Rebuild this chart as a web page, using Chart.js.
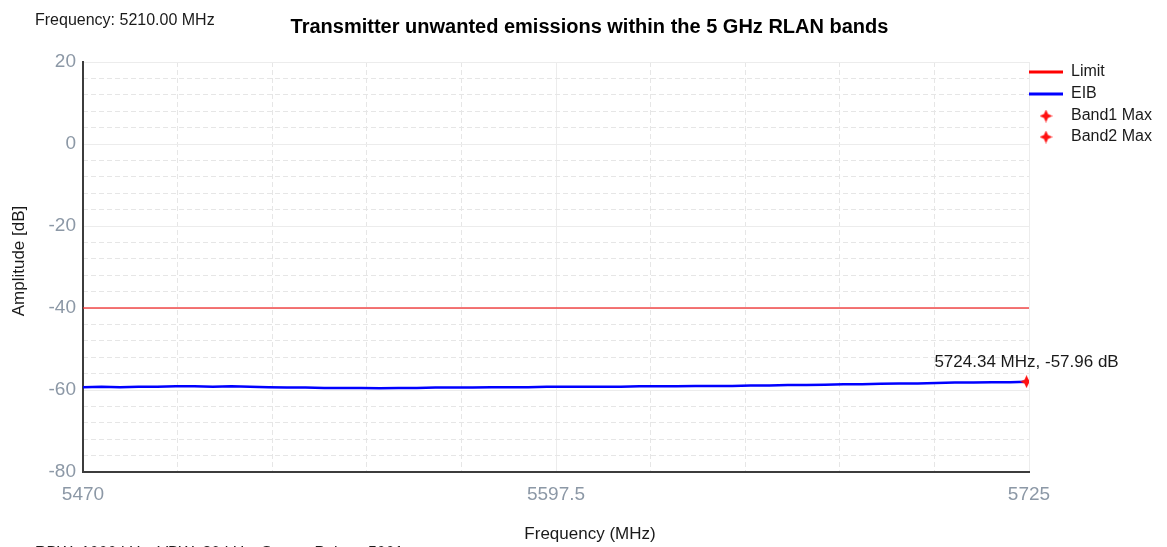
<!DOCTYPE html>
<html>
<head>
<meta charset="utf-8">
<script src="https://cdn.jsdelivr.net/npm/chart.js@4.4.1/dist/chart.umd.min.js"></script>
<style>
  html, body { margin: 0; padding: 0; background: #ffffff; }
  canvas { display: block; }
</style>
</head>
<body>
<canvas id="chart" width="1167" height="547"></canvas>
<script>
// Swept EIB trace (MHz / dB)
const freqMHz = [
  5470, 5475, 5480, 5485, 5490, 5495, 5500, 5505, 5510, 5515,
  5520, 5525, 5530, 5535, 5540, 5545, 5550, 5555, 5560, 5565,
  5570, 5575, 5580, 5585, 5590, 5595, 5600, 5605, 5610, 5615,
  5620, 5625, 5630, 5635, 5640, 5645, 5650, 5655, 5660, 5665,
  5670, 5675, 5680, 5685, 5690, 5695, 5700, 5705, 5710, 5715,
  5720, 5724.34, 5725
];
const eibDb = [
  -59.3, -59.2, -59.3, -59.2, -59.2, -59.1, -59.1, -59.2, -59.1, -59.2,
  -59.3, -59.4, -59.4, -59.5, -59.5, -59.5, -59.6, -59.5, -59.5, -59.4,
  -59.4, -59.4, -59.3, -59.3, -59.3, -59.2, -59.2, -59.2, -59.2, -59.2,
  -59.1, -59.1, -59.1, -59.0, -59.0, -59.0, -58.9, -58.9, -58.8, -58.8,
  -58.7, -58.6, -58.6, -58.5, -58.4, -58.4, -58.3, -58.2, -58.2, -58.1,
  -58.1, -57.96, -58.0
];

// Limit line
const limitFreq = [5470, 5725];
const limitDb = [-40, -40];

// Band maxima markers
const band1Freq = [5724.34];
const band1Db = [-57.96];
const band2Freq = [];
const band2Db = [];

// Axis ticks
const xMajorTicks = [5470, 5597.5, 5725];
const xMinorTicks = [5495.5, 5521, 5546.5, 5572, 5623, 5648.5, 5674, 5699.5];
const yMajorTicks = [-80, -60, -40, -20, 0, 20];
const yMinorTicks = [-76, -72, -68, -64, -56, -52, -48, -44, -36, -32, -28, -24,
                     -16, -12, -8, -4, 4, 8, 12, 16];

const FONT = "'Liberation Sans', Arial, sans-serif";
const TICK_COLOR = '#8c98a6';
const TEXT_COLOR = '#1a1a1a';

function toPoints(xs, ys) { return xs.map((x, i) => ({ x: x, y: ys[i] })); }

// Four-pointed star used for the band maximum markers
function starMarker(size, color) {
  const c = document.createElement('canvas');
  c.width = c.height = size;
  const g = c.getContext('2d');
  const m = size / 2, ro = size / 2, ri = size * 0.22;
  g.beginPath();
  for (let i = 0; i < 8; i++) {
    const a = i * Math.PI / 4 - Math.PI / 2;
    const r = i % 2 ? ri : ro;
    g.lineTo(m + r * Math.cos(a), m + r * Math.sin(a));
  }
  g.closePath();
  g.fillStyle = color;
  g.fill();
  return c;
}
const starRed = starMarker(13, '#ff1010');

const textPlugin = {
  id: 'chartTexts',
  afterDraw(chart) {
    const ctx = chart.ctx;
    ctx.save();
    ctx.fillStyle = TEXT_COLOR;

    // header
    ctx.font = '16px ' + FONT;
    ctx.textAlign = 'left';
    ctx.textBaseline = 'alphabetic';
    ctx.fillText('Frequency: 5210.00 MHz', 35, 25);

    // title
    ctx.font = 'bold 20px ' + FONT;
    ctx.textAlign = 'center';
    ctx.fillStyle = '#000000';
    ctx.fillText('Transmitter unwanted emissions within the 5 GHz RLAN bands', 589.5, 33);
    ctx.fillStyle = TEXT_COLOR;

    // x axis title
    ctx.font = '17px ' + FONT;
    ctx.fillText('Frequency (MHz)', 590, 539);

    // y axis title
    ctx.save();
    ctx.translate(24, 261);
    ctx.rotate(-Math.PI / 2);
    ctx.font = '17px ' + FONT;
    ctx.fillText('Amplitude [dB]', 0, 0);
    ctx.restore();

    // sweep settings footer (partly below the canvas edge)
    ctx.font = '16px ' + FONT;
    ctx.textAlign = 'left';
    ctx.fillText('RBW: 1000 kHz, VBW: 30 kHz, Sweep Points: 5001', 35, 558);

    // legend
    const rows = [72, 94, 116, 137];
    chart.data.datasets.forEach((ds, i) => {
      const y = rows[i];
      if (ds.showLine === false) {
        ctx.drawImage(starRed, 1046 - 6.5, y - 6.5);
      } else {
        ctx.strokeStyle = ds.legendColor;
        ctx.lineWidth = 3;
        ctx.beginPath();
        ctx.moveTo(1029, y);
        ctx.lineTo(1063, y);
        ctx.stroke();
      }
      ctx.fillStyle = TEXT_COLOR;
      ctx.font = '16px ' + FONT;
      ctx.textAlign = 'left';
      ctx.textBaseline = 'middle';
      ctx.fillText(ds.label, 1071, y);
    });

    // value label for the band 1 maximum
    const meta = chart.getDatasetMeta(2);
    if (meta.data.length) {
      const p = meta.data[0];
      ctx.font = '17px ' + FONT;
      ctx.textAlign = 'center';
      ctx.textBaseline = 'alphabetic';
      ctx.fillStyle = TEXT_COLOR;
      ctx.fillText(band1Freq[0].toFixed(2) + ' MHz, ' + band1Db[0].toFixed(2) + ' dB', p.x, p.y - 15);
    }
    ctx.restore();
  }
};

new Chart(document.getElementById('chart'), {
  type: 'scatter',
  data: {
    datasets: [
      {
        label: 'Limit',
        data: toPoints(limitFreq, limitDb),
        showLine: true,
        borderColor: 'rgba(240,40,40,0.85)',
        legendColor: '#ff0000',
        borderWidth: 1.5,
        pointRadius: 0,
        order: 3
      },
      {
        label: 'EIB',
        data: toPoints(freqMHz, eibDb),
        showLine: true,
        borderColor: '#0000ff',
        legendColor: '#0000ff',
        borderWidth: 2.5,
        pointRadius: 0,
        tension: 0,
        order: 2
      },
      {
        label: 'Band1 Max',
        data: toPoints(band1Freq, band1Db),
        showLine: false,
        pointStyle: starRed,
        pointRadius: 6,
        order: 1
      },
      {
        label: 'Band2 Max',
        data: toPoints(band2Freq, band2Db),
        showLine: false,
        pointStyle: starRed,
        pointRadius: 6,
        order: 1
      }
    ]
  },
  options: {
    responsive: false,
    animation: false,
    devicePixelRatio: 1,
    layout: { padding: { left: 0, right: 138, top: 62, bottom: 0 } },
    plugins: {
      legend: { display: false },
      title: { display: false },
      tooltip: { enabled: false }
    },
    scales: {
      x: {
        type: 'linear',
        position: 'bottom',
        min: 5470,
        max: 5725,
        afterBuildTicks: s => { s.ticks = xMajorTicks.map(v => ({ value: v })); },
        afterFit: s => { s.height = 75; },
        ticks: {
          callback: v => String(v),
          color: TICK_COLOR,
          font: { family: FONT, size: 19 },
          padding: 11,
          maxRotation: 0,
          autoSkip: false
        },
        grid: { color: '#ececec', lineWidth: 1, drawTicks: false },
        border: { display: true, color: '#3c3c3c', width: 2 }
      },
      xMinor: {
        type: 'linear',
        position: 'bottom',
        min: 5470,
        max: 5725,
        afterBuildTicks: s => { s.ticks = xMinorTicks.map(v => ({ value: v })); },
        afterFit: s => { s.height = 0; },
        ticks: { display: false },
        grid: { color: '#e6e6e6', lineWidth: 1, drawTicks: false },
        border: { display: false, dash: [5, 3] }
      },
      y: {
        type: 'linear',
        position: 'left',
        min: -80,
        max: 20,
        afterBuildTicks: s => { s.ticks = yMajorTicks.map(v => ({ value: v })); },
        afterFit: s => { s.width = 83; },
        ticks: {
          callback: v => String(v),
          color: TICK_COLOR,
          font: { family: FONT, size: 19 },
          padding: 7
        },
        grid: { color: '#ececec', lineWidth: 1, drawTicks: false },
        border: { display: true, color: '#3c3c3c', width: 2 }
      },
      yMinor: {
        type: 'linear',
        position: 'left',
        min: -80,
        max: 20,
        afterBuildTicks: s => { s.ticks = yMinorTicks.map(v => ({ value: v })); },
        afterFit: s => { s.width = 0; },
        ticks: { display: false },
        grid: { color: '#e6e6e6', lineWidth: 1, drawTicks: false },
        border: { display: false, dash: [5, 3] }
      }
    }
  },
  plugins: [textPlugin]
});
</script>
</body>
</html>
